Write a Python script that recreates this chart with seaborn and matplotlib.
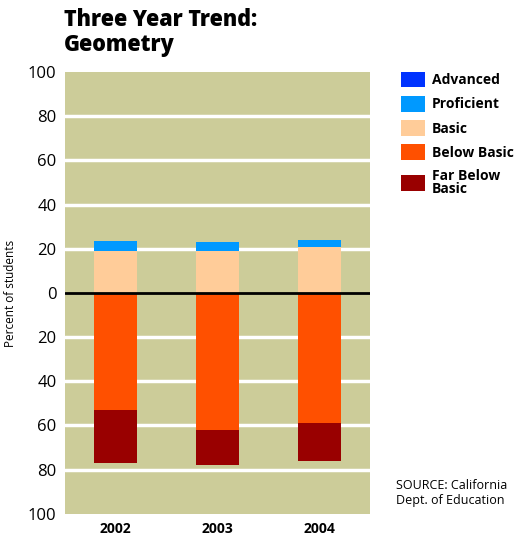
import numpy as np
import pandas as pd
import matplotlib
matplotlib.use("Agg")
import matplotlib.pyplot as plt
from matplotlib.patches import Patch
import seaborn as sns

# data (percent of students)
years = ["2002", "2003", "2004"]
advanced = [0, 0, 0]
proficient = [4.5, 4, 3]
basic = [19, 19, 21]
below_basic = [53, 62, 59]
far_below_basic = [24, 16, 17]

levels = ["Advanced", "Proficient", "Basic", "Below Basic", "Far Below\nBasic"]
colors = ["#0033ff", "#0099ff", "#ffcc99", "#ff5000", "#990000"]

sns.set_style("white")
plt.rcParams["font.family"] = ["Open Sans", "DejaVu Sans"]
plt.rcParams["text.color"] = "black"
plt.rcParams["xtick.color"] = "black"
plt.rcParams["ytick.color"] = "black"
plt.rcParams["axes.labelcolor"] = "black"

fig = plt.figure(figsize=(5.19, 5.38), dpi=100)
ax = fig.add_axes([0.125, 0.045, 0.588, 0.821])
ax.set_facecolor("#cccc99")

df = pd.DataFrame({"year": years})
w = 0.42

# above zero: basic, proficient, advanced
pos = np.zeros(3)
for vals, c in [(basic, colors[2]), (proficient, colors[1]), (advanced, colors[0])]:
    sns.barplot(x=df["year"], y=vals, bottom=pos, color=c, width=w,
                saturation=1, linewidth=0, ax=ax, zorder=3)
    pos = pos + np.array(vals)

# below zero: below basic, far below basic
neg = np.zeros(3)
for vals, c in [(below_basic, colors[3]), (far_below_basic, colors[4])]:
    v = -np.array(vals, dtype=float)
    sns.barplot(x=df["year"], y=v, bottom=neg, color=c, width=w,
                saturation=1, linewidth=0, ax=ax, zorder=3)
    neg = neg + v

ax.set_xlim(-0.5, 2.5)
ax.set_ylim(-100, 100)
ticks = np.arange(-100, 101, 20)
ax.set_yticks(ticks)
ax.set_yticklabels([str(abs(t)) for t in ticks], fontsize=12)
for t in ticks:
    if t not in (-100, 100, 0):
        ax.axhline(t, color="white", lw=2.5, zorder=1)
ax.axhline(0, color="black", lw=2, zorder=4)
ax.set_xticks(range(3))
ax.set_xticklabels(years, fontsize=10, fontweight="bold")
ax.set_xlabel("")
ax.set_ylabel("Percent of students", fontsize=8.5, labelpad=8)
ax.tick_params(axis="both", length=0, pad=6)
for s in ax.spines.values():
    s.set_visible(False)

fig.text(0.123, 0.985, "Three Year Trend:\nGeometry", fontsize=15.5,
         fontweight="heavy", va="top", ha="left", linespacing=1.05)

handles = [Patch(facecolor=c, edgecolor="none") for c in colors]
leg = fig.legend(handles, levels, loc="upper left",
                 bbox_to_anchor=(0.762, 0.877), frameon=False,
                 prop={"weight": "bold", "size": 10}, handlelength=1.75,
                 handleheight=1.35, handletextpad=0.45, labelspacing=0.62,
                 borderaxespad=0)
for t in leg.get_texts():
    t.set_linespacing(0.95)

fig.text(0.763, 0.11, "SOURCE: California\nDept. of Education", fontsize=9,
         va="top", ha="left", linespacing=1.2)

fig.savefig("out.png", dpi=100)
